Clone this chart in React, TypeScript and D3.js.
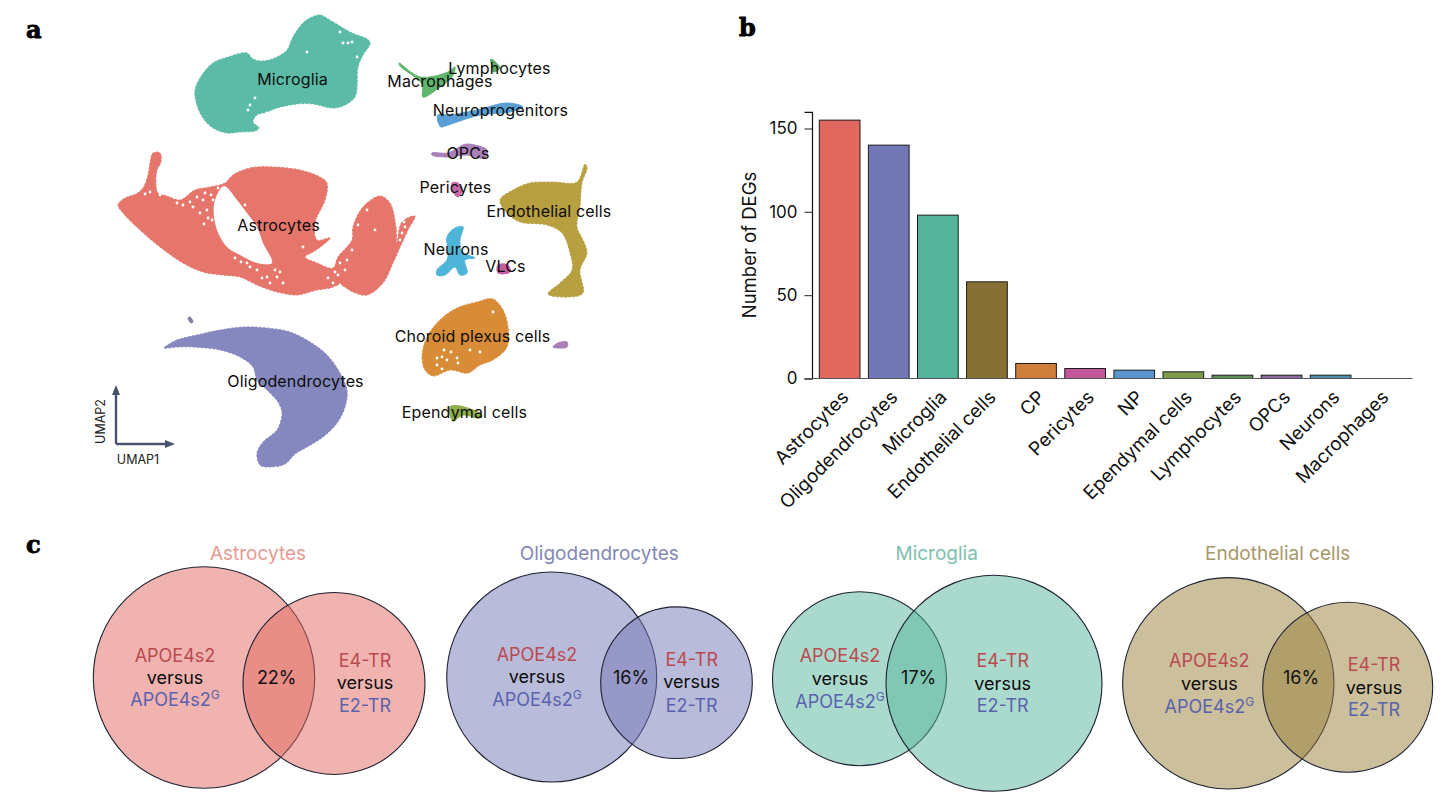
import * as d3 from 'd3'
import * as React from 'react'

type Pt = [number, number]

const FONT = 'Inter, "Noto Sans", sans-serif'

// UMAP embedding, outlines
const microglia: Pt[] = [[320,15],[333,22],[350,32],[370,42],[363,55],[358,67],[357,87],[355,97],[345,105],[333,108],[313,104],[297,104],[277,108],[267,112],[257,115],[253,122],[259,128],[255,131],[240,132],[227,133],[213,128],[203,118],[197,105],[195,90],[202,75],[213,63],[228,57],[247,53],[253,59],[263,61],[277,57],[287,50],[293,37],[303,23],[312,17]]
const astrocytes: Pt[] = [[153,153],[160,153],[161,162],[157,170],[156,185],[158,193],[167,196],[180,200],[195,190],[210,187],[225,183],[233,175],[250,168],[273,167],[300,170],[320,177],[327,183],[325,200],[315,223],[317,240],[330,238],[323,245],[313,252],[305,257],[317,263],[333,268],[338,257],[352,240],[353,227],[363,207],[380,196],[390,203],[396,227],[397,243],[402,222],[415,216],[408,230],[402,243],[393,263],[383,283],[367,295],[353,292],[340,285],[330,288],[317,290],[297,295],[277,292],[257,285],[240,277],[223,275],[203,272],[183,263],[160,247],[140,230],[123,213],[118,205],[125,198],[136,194],[143,188],[148,175],[150,163]]
const astrocyteGap: Pt[] = [[224,186],[237,200],[247,213],[257,227],[263,243],[272,263],[257,263],[240,255],[228,248],[219,235],[214,217],[215,200]]
const oligodendrocytes: Pt[] = [[164,348],[177,340],[197,335],[220,330],[243,327],[267,328],[290,332],[310,342],[327,355],[340,373],[347,390],[345,407],[337,423],[323,437],[307,447],[295,454],[285,464],[270,467],[260,465],[257,453],[263,442],[277,430],[282,413],[278,402],[267,390],[257,380],[253,367],[240,357],[220,350],[193,347],[177,347]]
const oligoStray: Pt[] = [[188,318],[190,317],[193,322],[191,323]]
const choroid: Pt[] = [[493,299],[503,310],[508,327],[507,347],[493,360],[480,365],[468,373],[450,370],[433,376],[425,370],[422,357],[427,337],[440,320],[457,308],[477,302]]
const choroidStray: Pt[] = [[553,347],[558,343],[567,342],[567,347]]
const ependymal: Pt[] = [[450,407],[460,406],[482,415],[480,418],[463,415],[453,421]]
const macrophages: Pt[] = [[399,63],[420,77],[448,72],[455,67],[452,77],[440,87],[423,97],[422,84],[400,66]]
const lymphocytes: Pt[] = [[491,59],[500,68],[493,72],[492,67]]
const neuroprogenitors: Pt[] = [[438,115],[450,115],[477,110],[507,103],[523,107],[510,112],[480,115],[445,126],[441,127],[438,122]]
const opcs: Pt[] = [[432,153],[448,153],[463,145],[468,144],[487,150],[485,158],[467,155],[447,157],[432,155]]
const pericytes: Pt[] = [[452,183],[458,183],[462,190],[458,197],[453,192]]
const endothelial: Pt[] = [[585,164],[587,168],[582,183],[580,207],[577,227],[583,240],[587,253],[580,270],[583,293],[570,297],[548,294],[560,283],[572,270],[570,253],[562,233],[547,225],[520,222],[507,213],[500,200],[513,190],[530,183],[553,182],[577,182]]
const neurons: Pt[] = [[455,228],[463,227],[460,240],[462,252],[475,258],[465,260],[467,273],[460,275],[455,267],[445,275],[437,275],[437,270],[447,260],[448,250],[447,237]]
const vlcs: Pt[] = [[498,265],[508,265],[510,272],[498,273]]

// white specks inside the dense clusters
const emptySpots: Pt[] = [[340,32],[343,43],[348,43],[352,42],[357,57],[307,52],[250,105],[248,110],[255,98],[263,117],[260,118],[267,113],
  [183,205],[193,207],[200,213],[207,210],[213,200],[218,188],[203,200],[197,197],[211,195],[205,193],[190,202],[177,203],[208,218],[204,224],
  [277,277],[283,283],[267,277],[257,270],[247,263],[235,258],[275,270],[270,283],[262,278],[250,267],[241,262],[280,272],
  [333,283],[340,285],[347,260],[340,263],[303,247],[405,227],[402,233],[367,210],[375,230],[212,220],[225,218],[150,192],[145,194],[160,195],[245,205],[222,230],
  [352,250],[345,270],[338,275],[328,278],[335,272],[358,225],[404,222],[400,240],
  [437,358],[442,357],[447,360],[458,363],[444,350],[442,369],[493,312],[470,350],[480,352],[451,352],[437,365],[457,358]]

const clusters: { outline: Pt[]; color: string; grainy?: boolean }[] = [
  { outline: microglia, color: '#5bbba6', grainy: true },
  { outline: astrocytes, color: '#e6766b', grainy: true },
  { outline: oligodendrocytes, color: '#8488bf', grainy: true },
  { outline: oligoStray, color: '#7f83a8' },
  { outline: choroid, color: '#d98c37', grainy: true },
  { outline: choroidStray, color: '#a97fb8' },
  { outline: ependymal, color: '#8fae4a' },
  { outline: macrophages, color: '#5fb56e' },
  { outline: lymphocytes, color: '#5fa864' },
  { outline: neuroprogenitors, color: '#5a9fd4' },
  { outline: opcs, color: '#a97fb8' },
  { outline: pericytes, color: '#c468a8' },
  { outline: endothelial, color: '#b8a040', grainy: true },
  { outline: neurons, color: '#4fb5d8' },
  { outline: vlcs, color: '#c25d9f' },
]

const umapLabels: { name: string; at: Pt }[] = [
  { name: 'Microglia', at: [292.5, 85] },
  { name: 'Macrophages', at: [440, 87] },
  { name: 'Lymphocytes', at: [499.5, 74] },
  { name: 'Neuroprogenitors', at: [500.5, 116] },
  { name: 'OPCs', at: [468, 159] },
  { name: 'Pericytes', at: [455.5, 193] },
  { name: 'Endothelial cells', at: [549, 217] },
  { name: 'Astrocytes', at: [278.5, 231] },
  { name: 'Neurons', at: [456, 255] },
  { name: 'VLCs', at: [505.5, 272] },
  { name: 'Choroid plexus cells', at: [472.5, 342] },
  { name: 'Oligodendrocytes', at: [295.5, 387] },
  { name: 'Ependymal cells', at: [464.5, 418] },
]

// DEG counts
const degCells = ['Astrocytes', 'Oligodendrocytes', 'Microglia', 'Endothelial cells', 'CP', 'Pericytes', 'NP', 'Ependymal cells', 'Lymphocytes', 'OPCs', 'Neurons', 'Macrophages']
const degCounts = [155, 140, 98, 58, 9, 6, 5, 4, 2, 2, 2, 0]
const degColors = ['#e2685f', '#7377b6', '#55b59c', '#877033', '#cf7e3c', '#c2589b', '#5a94cc', '#7f9a48', '#5f9158', '#8a6a9e', '#4f8fae', '#888888']
const degTicks = [0, 50, 100, 150]

// Venn panels
const vennTitles = ['Astrocytes', 'Oligodendrocytes', 'Microglia', 'Endothelial cells']
const vennTitleColors = ['#e89a92', '#8387b5', '#7dbfb0', '#a8976a']
const vennFills = ['#e2685f', '#7377b6', '#55b59c', '#97803a']
const vennOverlap = ['22%', '16%', '17%', '16%']
const vennSizeA = [12254, 11025, 7569, 11172]
const vennSizeB = [8281, 5746, 11664, 7225]

const vennLayout = [
  { a: [204, 677.5], b: [334, 683.5], title: [258, 560], pct: [276.7, 684], left: [175, 661.7, 683.5, 706], right: [365, 666.7, 689, 712] },
  { a: [551.7, 677], b: [676.5, 682.7], title: [599.3, 560], pct: [631, 684], left: [537, 660.7, 682.7, 705.7], right: [691.7, 666, 688.3, 711.7] },
  { a: [859.5, 678.7], b: [994, 683.3], title: [936.7, 560], pct: [918.7, 684], left: [840, 661.7, 685, 708], right: [1002.7, 667, 689.7, 712.3] },
  { a: [1228.3, 683.3], b: [1347.7, 687.3], title: [1277.7, 560], pct: [1301, 683.7], left: [1209.3, 666.7, 689.7, 713], right: [1374, 671, 693.7, 716] },
]

const RED = '#b94a50'
const BLUE = '#5a62ad'

export default function App() {
  const yAxisRef = React.useRef<SVGGElement>(null)
  const xAxisRef = React.useRef<SVGGElement>(null)

  const umapX = d3.scaleLinear().domain([100, 620]).range([100, 620])
  const umapY = d3.scaleLinear().domain([0, 480]).range([0, 480])
  const blob = d3.line<Pt>().x(d => umapX(d[0])).y(d => umapY(d[1])).curve(d3.curveCatmullRomClosed.alpha(0.5))

  const x = d3.scaleBand<string>().domain(degCells).range([815.1, 1404.3]).paddingInner(0.171).paddingOuter(0.0855)
  const y = d3.scaleLinear().domain([0, 160]).range([378.5, 111.8])
  const r = d3.scaleSqrt().domain([0, 10000]).range([0, 100])

  React.useEffect(() => {
    const yAxis = d3.select(yAxisRef.current!)
    yAxis.call(d3.axisLeft(y).tickValues(degTicks).tickSize(7.5).tickPadding(7) as any)
    yAxis.selectAll('text').attr('font-size', 17).attr('font-family', FONT).attr('fill', '#111')
    yAxis.selectAll('line').attr('stroke', '#333').attr('stroke-width', 1.1)
    yAxis.select('.domain').attr('stroke', '#111').attr('stroke-width', 1.2)

    const xAxis = d3.select(xAxisRef.current!)
    xAxis.call(d3.axisBottom(x).tickSize(0) as any)
    xAxis.select('.domain').remove()
    xAxis.selectAll('text')
      .attr('font-size', 18.8).attr('font-family', FONT).attr('fill', '#111')
      .attr('text-anchor', 'end').attr('dy', 0).attr('y', 0)
      .attr('transform', 'translate(10,20) rotate(-45)')
  }, [])

  return (
    <svg width={1456} height={796} style={{ position: 'absolute', left: 0, top: 0, background: '#fff' }} fontFamily={FONT}>
      {/* panel letters */}
      <g fontFamily='"DejaVu Serif", serif' fontWeight={700} fontSize={24} stroke="#000" strokeWidth={0.9}>
        <text x={26} y={38}>a</text>
        <text x={739} y={36}>b</text>
        <text x={26} y={553}>c</text>
      </g>

      {/* a: UMAP */}
      <g>
        {clusters.map((c, i) => (
          <path key={i} d={blob(c.outline)!} fill={c.color} stroke={c.color} strokeWidth={1}
            strokeDasharray={c.grainy ? '1.5 2.5' : undefined} strokeLinecap="round" />
        ))}
        <path d={blob(astrocyteGap)!} fill="#fff" />
        {emptySpots.map((p, i) => (
          <circle key={i} cx={umapX(p[0])} cy={umapY(p[1])} r={1.4} fill="#fff" />
        ))}
        {umapLabels.map(l => (
          <text key={l.name} x={umapX(l.at[0])} y={umapY(l.at[1])} textAnchor="middle" fontSize={16} letterSpacing={0.15} fill="#0c0c0c">{l.name}</text>
        ))}
        <g stroke="#47536a" strokeWidth={2.4} fill="none">
          <path d="M116,444V392" />
          <path d="M116,444H170" />
        </g>
        <path d="M116,385l-4,10h8z" fill="#47536a" />
        <path d="M175,444l-10,-4v8z" fill="#47536a" />
        <text x={138} y={463.5} textAnchor="middle" fontSize={12.5} fill="#222">UMAP1</text>
        <text transform="translate(105,421.5) rotate(-90)" textAnchor="middle" fontSize={12.5} fill="#222">UMAP2</text>
      </g>

      {/* b: DEG bars */}
      <g>
        {degCells.map((c, i) => (
          <rect key={c} x={x(c)} y={y(degCounts[i])} width={x.bandwidth()} height={y(0) - y(degCounts[i])}
            fill={degColors[i]} stroke="#1c1c1c" strokeWidth={degCounts[i] > 0 ? 1 : 0} />
        ))}
        <g ref={yAxisRef} transform="translate(812,0)" />
        <line x1={805} x2={1412.5} y1={y(0)} y2={y(0)} stroke="#555" strokeWidth={1.2} />
        <g ref={xAxisRef} transform={`translate(0,${y(0)})`} />
        <text transform="translate(756,245) rotate(-90)" textAnchor="middle" fontSize={18.5} fill="#111">Number of DEGs</text>
      </g>

      {/* c: Venn diagrams */}
      {vennTitles.map((t, i) => {
        const v = vennLayout[i]
        return (
          <g key={t}>
            <text x={v.title[0]} y={v.title[1]} textAnchor="middle" fontSize={19} fill={vennTitleColors[i]}>{t}</text>
            <circle cx={v.a[0]} cy={v.a[1]} r={r(vennSizeA[i])} fill={vennFills[i]} fillOpacity={0.5} stroke="#1f2233" strokeWidth={1.1} />
            <circle cx={v.b[0]} cy={v.b[1]} r={r(vennSizeB[i])} fill={vennFills[i]} fillOpacity={0.5} stroke="#1f2233" strokeWidth={1.1} />
            <g fontSize={18} textAnchor="middle">
              <text x={v.pct[0]} y={v.pct[1]} fill="#111">{vennOverlap[i]}</text>
              <text x={v.left[0]} y={v.left[1]} fill={RED}>APOE4s2</text>
              <text x={v.left[0]} y={v.left[2]} fill="#0c0c0c">versus</text>
              <text x={v.left[0]} y={v.left[3]} fill={BLUE}>APOE4s2<tspan dy={-7} fontSize={12}>G</tspan></text>
              <text x={v.right[0]} y={v.right[1]} fill={RED}>E4-TR</text>
              <text x={v.right[0]} y={v.right[2]} fill="#0c0c0c">versus</text>
              <text x={v.right[0]} y={v.right[3]} fill={BLUE}>E2-TR</text>
            </g>
          </g>
        )
      })}
    </svg>
  )
}
